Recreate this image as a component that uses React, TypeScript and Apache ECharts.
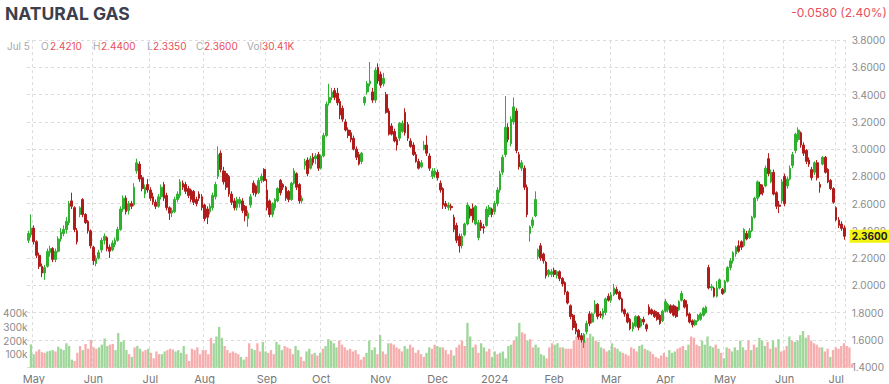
import React, { useEffect, useRef } from "react";
import * as echarts from "echarts";

// Trading days per month (year-month, days)
const TRADING_DAYS: [string, number[]][] = [
  ["2023-04", [27, 28]],
  ["2023-05", [1, 2, 3, 4, 5, 8, 9, 10, 11, 12, 15, 16, 17, 18, 19, 22, 23, 24, 25, 26, 30, 31]],
  ["2023-06", [1, 2, 5, 6, 7, 8, 9, 12, 13, 14, 15, 16, 20, 21, 22, 23, 26, 27, 28, 29, 30]],
  ["2023-07", [3, 5, 6, 7, 10, 11, 12, 13, 14, 17, 18, 19, 20, 21, 24, 25, 26, 27, 28, 31]],
  ["2023-08", [1, 2, 3, 4, 7, 8, 9, 10, 11, 14, 15, 16, 17, 18, 21, 22, 23, 24, 25, 28, 29, 30, 31]],
  ["2023-09", [1, 5, 6, 7, 8, 11, 12, 13, 14, 15, 18, 19, 20, 21, 22, 25, 26, 27, 28, 29]],
  ["2023-10", [2, 3, 4, 5, 6, 9, 10, 11, 12, 13, 16, 17, 18, 19, 20, 23, 24, 25, 26, 27, 30, 31]],
  ["2023-11", [1, 2, 3, 6, 7, 8, 9, 10, 13, 14, 15, 16, 17, 20, 21, 22, 24, 27, 28, 29, 30]],
  ["2023-12", [1, 4, 5, 6, 7, 8, 11, 12, 13, 14, 15, 18, 19, 20, 21, 22, 25, 26, 27, 28, 29]],
  ["2024-01", [2, 3, 4, 5, 8, 9, 10, 11, 12, 15, 16, 17, 18, 19, 22, 23, 24, 25, 26, 29, 30, 31]],
  ["2024-02", [1, 2, 5, 6, 7, 8, 9, 12, 13, 14, 15, 16, 19, 20, 21, 22, 23, 26, 27, 28, 29]],
  ["2024-03", [1, 4, 5, 6, 7, 8, 11, 12, 13, 14, 15, 18, 19, 20, 21, 22, 25, 26, 27, 28]],
  ["2024-04", [1, 2, 3, 4, 5, 8, 9, 10, 11, 12, 15, 16, 17, 18, 19, 22, 23, 24, 25, 26, 29, 30]],
  ["2024-05", [1, 2, 3, 6, 7, 8, 9, 10, 13, 14, 15, 16, 17, 20, 21, 22, 23, 24, 28, 29, 30, 31]],
  ["2024-06", [3, 4, 5, 6, 7, 10, 11, 12, 13, 14, 17, 18, 20, 21, 24, 25, 26, 27, 28]],
  ["2024-07", [1, 2, 3, 5]],
];

// OHLC as [open, close, low, high]
const apr23 = [[2.33,2.38,2.31,2.40],[2.37,2.42,2.35,2.52]];
const may23 = [[2.42,2.32,2.30,2.44],[2.32,2.22,2.20,2.33],[2.22,2.14,2.12,2.24],[2.14,2.09,2.06,2.16],[2.09,2.13,2.04,2.15],[2.14,2.25,2.13,2.27],[2.24,2.27,2.21,2.29],[2.27,2.19,2.17,2.28],[2.19,2.25,2.17,2.27],[2.25,2.34,2.24,2.36],[2.34,2.39,2.32,2.42],[2.38,2.41,2.36,2.44],[2.41,2.47,2.38,2.50],[2.46,2.60,2.44,2.62],[2.62,2.58,2.56,2.68],[2.57,2.41,2.39,2.58],[2.40,2.32,2.30,2.42],[2.52,2.57,2.50,2.58],[2.63,2.52,2.50,2.64],[2.52,2.46,2.45,2.53],[2.47,2.40,2.38,2.48],[2.40,2.29,2.27,2.41]];
const jun23 = [[2.28,2.18,2.15,2.29],[2.16,2.20,2.14,2.22],[2.20,2.24,2.19,2.26],[2.26,2.33,2.24,2.35],[2.33,2.36,2.30,2.38],[2.35,2.27,2.25,2.36],[2.28,2.25,2.20,2.30],[2.26,2.31,2.25,2.33],[2.30,2.33,2.28,2.35],[2.33,2.41,2.32,2.43],[2.41,2.56,2.40,2.58],[2.56,2.64,2.54,2.66],[2.64,2.54,2.52,2.66],[2.55,2.60,2.52,2.62],[2.60,2.58,2.56,2.62],[2.59,2.72,2.58,2.75],[2.84,2.90,2.82,2.93],[2.89,2.78,2.76,2.91],[2.79,2.71,2.69,2.81],[2.67,2.72,2.64,2.74],[2.74,2.70,2.68,2.78]];
const jul23 = [[2.70,2.64,2.62,2.72],[2.65,2.61,2.59,2.68],[2.61,2.58,2.56,2.63],[2.58,2.65,2.57,2.67],[2.65,2.72,2.63,2.74],[2.74,2.64,2.62,2.76],[2.66,2.57,2.55,2.68],[2.57,2.53,2.48,2.58],[2.53,2.55,2.50,2.57],[2.54,2.63,2.53,2.65],[2.63,2.67,2.61,2.69],[2.66,2.76,2.64,2.78],[2.75,2.72,2.70,2.77],[2.74,2.69,2.67,2.76],[2.71,2.66,2.64,2.73],[2.70,2.63,2.61,2.71],[2.69,2.61,2.59,2.70],[2.63,2.60,2.58,2.65],[2.67,2.64,2.62,2.69],[2.65,2.57,2.55,2.67]];
const aug23 = [[2.59,2.49,2.47,2.60],[2.56,2.50,2.45,2.58],[2.54,2.58,2.52,2.60],[2.57,2.66,2.55,2.68],[2.65,2.74,2.63,2.76],[2.80,2.96,2.78,3.02],[2.97,2.85,2.83,2.99],[2.84,2.76,2.74,2.87],[2.82,2.72,2.70,2.84],[2.80,2.67,2.65,2.81],[2.67,2.61,2.59,2.69],[2.62,2.57,2.55,2.64],[2.57,2.63,2.55,2.65],[2.60,2.63,2.57,2.65],[2.62,2.55,2.53,2.64],[2.58,2.51,2.47,2.59],[2.49,2.53,2.43,2.55],[2.59,2.65,2.57,2.67],[2.75,2.68,2.66,2.77],[2.73,2.67,2.65,2.74],[2.68,2.77,2.67,2.79],[2.77,2.80,2.75,2.82],[2.85,2.77,2.76,2.86]];
const sep23 = [[2.70,2.57,2.55,2.78],[2.62,2.52,2.50,2.63],[2.52,2.60,2.50,2.61],[2.57,2.63,2.55,2.64],[2.62,2.71,2.61,2.72],[2.77,2.68,2.66,2.78],[2.74,2.72,2.70,2.75],[2.72,2.64,2.62,2.73],[2.69,2.63,2.61,2.70],[2.63,2.75,2.62,2.76],[2.75,2.84,2.74,2.86],[2.82,2.72,2.70,2.83],[2.74,2.62,2.60,2.75],[2.62,2.64,2.60,2.66],[2.88,2.91,2.85,2.93],[2.92,2.82,2.80,2.94],[2.86,2.93,2.85,2.95],[2.94,2.90,2.88,2.97],[2.93,2.95,2.89,2.97],[2.96,2.86,2.84,2.98]];
const oct23 = [[2.86,2.95,2.85,2.96],[2.95,3.10,2.94,3.12],[3.10,3.33,3.09,3.35],[3.34,3.38,3.32,3.48],[3.38,3.42,3.36,3.45],[3.43,3.38,3.36,3.45],[3.41,3.34,3.32,3.45],[3.35,3.25,3.22,3.37],[3.30,3.22,3.20,3.32],[3.20,3.14,3.13,3.22],[3.14,3.10,3.08,3.16],[3.12,3.07,3.05,3.14],[3.08,3.00,2.99,3.10],[3.00,2.94,2.92,3.02],[2.96,2.89,2.88,2.98],[2.91,2.97,2.89,2.98],[3.34,3.38,3.32,3.39],[3.42,3.48,3.40,3.50],[3.48,3.50,3.46,3.64],[3.42,3.36,3.34,3.45],[3.36,3.58,3.34,3.60],[3.60,3.50,3.48,3.63]];
const nov23 = [[3.55,3.47,3.45,3.57],[3.48,3.52,3.46,3.56],[3.40,3.27,3.26,3.42],[3.28,3.11,3.10,3.30],[3.17,3.11,3.10,3.19],[3.13,3.06,3.05,3.15],[3.07,3.03,2.99,3.09],[3.08,3.19,3.06,3.20],[3.13,3.19,3.12,3.21],[3.27,3.12,3.10,3.30],[3.18,3.08,3.06,3.20],[3.06,3.02,3.01,3.08],[3.03,2.96,2.95,3.05],[2.96,2.91,2.90,2.98],[2.91,2.86,2.85,2.93],[2.87,2.90,2.86,2.92],[3.00,3.03,2.99,3.06],[3.03,2.97,2.95,3.10],[2.95,2.86,2.84,2.97],[2.80,2.84,2.78,2.86],[2.81,2.84,2.79,2.86]];
const dec23 = [[2.83,2.79,2.77,2.85],[2.75,2.70,2.68,2.77],[2.71,2.59,2.56,2.72],[2.60,2.58,2.56,2.62],[2.57,2.59,2.55,2.61],[2.58,2.57,2.55,2.60],[2.50,2.41,2.39,2.52],[2.44,2.33,2.31,2.46],[2.36,2.29,2.24,2.38],[2.29,2.36,2.27,2.38],[2.37,2.45,2.36,2.46],[2.45,2.59,2.44,2.61],[2.56,2.51,2.49,2.58],[2.57,2.48,2.46,2.60],[2.45,2.58,2.44,2.59],[2.35,2.46,2.33,2.48],[2.46,2.42,2.40,2.48],[2.43,2.42,2.38,2.45],[2.44,2.56,2.43,2.58],[2.52,2.57,2.50,2.59],[2.56,2.52,2.50,2.57]];
const jan24 = [[2.54,2.60,2.52,2.62],[2.60,2.70,2.58,2.72],[2.70,2.82,2.68,2.84],[2.83,2.94,2.81,2.96],[2.96,3.16,2.94,3.39],[3.16,3.07,3.05,3.19],[3.04,3.22,3.02,3.24],[3.20,3.31,3.18,3.38],[3.28,2.99,2.97,3.30],[2.96,2.87,2.85,2.98],[2.86,2.90,2.84,2.92],[2.86,2.72,2.70,2.88],[2.72,2.52,2.50,2.74],[2.38,2.43,2.32,2.44],[2.44,2.48,2.42,2.50],[2.51,2.63,2.50,2.69],[2.21,2.26,2.19,2.27],[2.29,2.20,2.18,2.31],[2.23,2.18,2.16,2.24],[2.17,2.07,2.05,2.18],[2.08,2.11,2.06,2.12],[2.08,2.10,2.06,2.12]];
const feb24 = [[2.11,2.08,2.06,2.13],[2.07,2.10,2.05,2.11],[2.10,2.05,2.03,2.11],[2.05,2.01,1.99,2.06],[2.02,1.95,1.93,2.03],[1.95,1.87,1.86,1.96],[1.85,1.77,1.75,1.86],[1.78,1.69,1.67,1.79],[1.72,1.66,1.64,1.74],[1.67,1.62,1.60,1.68],[1.63,1.60,1.58,1.65],[1.58,1.64,1.54,1.65],[1.66,1.72,1.64,1.74],[1.79,1.72,1.70,1.81],[1.73,1.79,1.72,1.80],[1.80,1.86,1.79,1.89],[1.86,1.77,1.75,1.87],[1.79,1.78,1.76,1.81],[1.77,1.81,1.75,1.83],[1.80,1.90,1.78,1.91],[1.92,1.89,1.88,1.94]];
const mar24 = [[1.89,1.93,1.87,1.95],[1.93,1.98,1.92,2.01],[1.97,1.94,1.93,1.99],[1.95,1.90,1.89,1.96],[1.90,1.81,1.80,1.91],[1.82,1.79,1.77,1.83],[1.79,1.73,1.72,1.80],[1.75,1.68,1.67,1.76],[1.68,1.72,1.66,1.73],[1.70,1.77,1.69,1.78],[1.77,1.69,1.67,1.78],[1.70,1.75,1.69,1.76],[1.75,1.73,1.71,1.77],[1.71,1.68,1.66,1.72],[1.84,1.79,1.78,1.86],[1.82,1.79,1.78,1.83],[1.81,1.77,1.76,1.82],[1.80,1.75,1.74,1.81],[1.78,1.72,1.71,1.79],[1.74,1.81,1.73,1.82]];
const apr24 = [[1.81,1.88,1.80,1.90],[1.82,1.86,1.80,1.87],[1.85,1.80,1.79,1.86],[1.85,1.78,1.77,1.86],[1.84,1.77,1.76,1.85],[1.82,1.88,1.81,1.89],[1.89,1.94,1.88,1.96],[1.89,1.84,1.83,1.90],[1.86,1.78,1.77,1.89],[1.79,1.73,1.72,1.80],[1.74,1.71,1.69,1.75],[1.71,1.74,1.70,1.75],[1.74,1.78,1.73,1.79],[1.75,1.79,1.74,1.80],[1.78,1.83,1.77,1.84],[1.80,1.84,1.79,1.85],[2.13,1.98,1.97,2.15],[1.98,1.99,1.96,2.01],[1.98,1.92,1.91,1.99],[1.92,1.98,1.91,2.03],[1.98,2.04,1.97,2.05],[1.97,1.94,1.93,1.98]];
const may24 = [[1.95,2.03,1.94,2.04],[2.03,2.13,2.02,2.14],[2.13,2.18,2.11,2.20],[2.18,2.24,2.16,2.25],[2.23,2.28,2.21,2.29],[2.29,2.25,2.24,2.33],[2.32,2.28,2.26,2.33],[2.29,2.41,2.28,2.42],[2.38,2.34,2.33,2.40],[2.35,2.40,2.34,2.42],[2.40,2.50,2.39,2.51],[2.50,2.64,2.49,2.65],[2.64,2.76,2.62,2.77],[2.74,2.67,2.65,2.76],[2.72,2.68,2.66,2.74],[2.73,2.86,2.72,2.88],[2.93,2.82,2.80,2.97],[2.76,2.83,2.75,2.85],[2.83,2.67,2.66,2.85],[2.68,2.58,2.56,2.69],[2.59,2.58,2.53,2.62],[2.62,2.76,2.60,2.78]];
const jun24 = [[2.80,2.60,2.58,2.82],[2.73,2.78,2.71,2.80],[2.78,2.86,2.77,2.88],[2.88,2.96,2.86,2.98],[2.99,3.11,2.97,3.12],[3.07,3.14,3.05,3.16],[3.12,3.03,3.01,3.13],[3.03,2.97,2.95,3.05],[2.99,2.91,2.89,3.00],[2.92,2.89,2.87,2.94],[2.85,2.79,2.77,2.87],[2.83,2.90,2.81,2.91],[2.90,2.79,2.77,2.92],[2.74,2.72,2.68,2.76],[2.89,2.94,2.88,2.95],[2.94,2.83,2.82,2.95],[2.85,2.76,2.75,2.86],[2.77,2.71,2.70,2.78],[2.71,2.61,2.60,2.72]];
const jul24 = [[2.57,2.48,2.47,2.58],[2.48,2.44,2.42,2.50],[2.45,2.418,2.40,2.47],[2.421,2.36,2.335,2.44]];

// Volume per day
const volApr23 = [172000,100000];
const volMay23 = [120000,135000,115000,110000,120000,125000,130000,120000,155000,140000,130000,180000,160000,60000,50000,110000,160000,130000,175000,140000,205000,150000];
const volJun23 = [140000,150000,170000,215000,160000,170000,175000,130000,255000,190000,200000,130000,100000,80000,150000,160000,140000,120000,130000,140000,110000];
const volJul23 = [70000,120000,100000,100000,120000,130000,140000,135000,120000,130000,110000,160000,100000,50000,140000,130000,150000,100000,130000,130000];
const volAug23 = [100000,220000,180000,230000,300000,220000,160000,130000,110000,120000,110000,100000,80000,60000,80000,180000,140000,130000,180000,120000,190000,120000,110000];
const volSep23 = [130000,100000,190000,170000,130000,160000,150000,140000,100000,160000,130000,80000,50000,120000,140000,100000,110000,90000,110000,140000];
const volOct23 = [160000,210000,200000,180000,150000,200000,170000,150000,130000,140000,120000,130000,100000,60000,80000,110000,200000,130000,150000,100000,240000,120000];
const volNov23 = [100000,180000,180000,170000,150000,140000,120000,160000,140000,170000,150000,110000,130000,100000,80000,110000,150000,140000,170000,160000,150000];
const volDec23 = [150000,130000,100000,130000,90000,150000,170000,200000,160000,330000,230000,150000,170000,110000,180000,150000,120000,140000,80000,120000,100000];
const volJan24 = [110000,120000,70000,160000,170000,200000,230000,330000,260000,250000,200000,210000,150000,170000,150000,100000,90000,70000,150000,180000,170000,180000];
const volFeb24 = [150000,150000,140000,140000,140000,200000,230000,240000,220000,200000,220000,250000,230000,200000,190000,150000,140000,120000,130000,180000,150000];
const volMar24 = [140000,120000,110000,100000,90000,150000,140000,120000,160000,170000,140000,130000,120000,100000,80000,70000,90000,110000,80000,130000];
const volApr24 = [110000,120000,140000,150000,160000,130000,170000,230000,220000,170000,160000,200000,170000,230000,160000,150000,170000,140000,110000,70000,150000,140000];
const volMay24 = [120000,150000,130000,200000,150000,130000,200000,130000,170000,150000,220000,200000,160000,190000,140000,200000,150000,210000,120000,130000,160000,230000];
const volJun24 = [200000,190000,200000,240000,270000,220000,240000,200000,180000,170000,150000,150000,120000,140000,80000,130000,150000,140000,160000];
const volJul24 = [180000,160000,150000,30410];

const PRICE_TICKS = { min: 1.4, max: 3.8, step: 0.2 };
const VOLUME_TICKS = { min: 0, max: 400000, step: 100000 };
const MONTH_NAMES = ["Jan","Feb","Mar","Apr","May","Jun","Jul","Aug","Sep","Oct","Nov","Dec"];

const UP = "#2fb12f";
const DOWN = "#b01c1c";
const VOL_UP = "#9fd699";
const VOL_DOWN = "#f6adad";
const FONT = "Inter, sans-serif";

export default function App() {
  const ref = useRef<HTMLDivElement>(null);

  useEffect(() => {
    if (!ref.current) return;
    const chart = echarts.init(ref.current, undefined, { renderer: "svg" });

    const dates: string[] = [];
    const labelText: Record<string, string> = {};
    TRADING_DAYS.forEach(([ym, days], mi) => {
      days.forEach((d, di) => {
        const ds = `${ym}-${String(d).padStart(2, "0")}`;
        dates.push(ds);
        if (di === 0 && mi > 0) {
          const [y, m] = ym.split("-").map(Number);
          labelText[ds] = m === 1 ? String(y) : MONTH_NAMES[m - 1];
        }
      });
    });
    const labelIdx = new Set<number>();
    dates.forEach((d, i) => { if (labelText[d]) labelIdx.add(i); });

    const ohlc = [...apr23, ...may23, ...jun23, ...jul23, ...aug23, ...sep23, ...oct23, ...nov23, ...dec23, ...jan24, ...feb24, ...mar24, ...apr24, ...may24, ...jun24, ...jul24];
    const vols = [...volApr23, ...volMay23, ...volJun23, ...volJul23, ...volAug23, ...volSep23, ...volOct23, ...volNov23, ...volDec23, ...volJan24, ...volFeb24, ...volMar24, ...volApr24, ...volMay24, ...volJun24, ...volJul24];

    const volData = vols.map((v, i) => ({
      value: v,
      itemStyle: { color: ohlc[i] && ohlc[i][1] >= ohlc[i][0] ? VOL_UP : VOL_DOWN },
    }));

    const last = ohlc[ohlc.length - 1];
    const prev = ohlc[ohlc.length - 2];
    const change = last[1] - prev[1];
    const pct = (Math.abs(change) / prev[1]) * 100;
    const lastDate = dates[dates.length - 1];
    const [, lm, ld] = lastDate.split("-").map(Number);
    const lastVol = vols[vols.length - 1];

    const gray = "#a9a9a9";
    const red = "#e8505b";
    const infoY = 46;
    const txt = (text: string, x: number, y: number, fill: string, size = 10, extra: any = {}) => ({
      type: "text",
      x,
      y,
      silent: true,
      style: { text, fill, fontSize: size, fontFamily: FONT, verticalAlign: "middle", ...extra },
    });

    const grid = { left: 27, right: 35.5 };

    chart.setOption({
      animation: false,
      backgroundColor: "#ffffff",
      grid: [
        { left: grid.left, right: grid.right, top: 40.2, bottom: 16.2 },
        { left: grid.left, right: grid.right, top: 313.3, bottom: 16.2 },
      ],
      xAxis: [
        {
          type: "category",
          data: dates,
          gridIndex: 0,
          boundaryGap: true,
          axisLine: { show: false },
          axisTick: { show: false },
          axisLabel: {
            interval: (i: number) => labelIdx.has(i),
            formatter: (v: string) => labelText[v] || "",
            color: "#777",
            fontSize: 11,
            fontFamily: FONT,
            margin: 6,
          },
          splitLine: {
            show: true,
            interval: (i: number) => labelIdx.has(i),
            lineStyle: { color: "#dcdcdc", type: [3, 3], width: 1 },
          },
        },
        {
          type: "category",
          data: dates,
          gridIndex: 1,
          show: false,
        },
      ],
      yAxis: [
        {
          type: "value",
          gridIndex: 0,
          position: "right",
          min: PRICE_TICKS.min,
          max: PRICE_TICKS.max,
          interval: PRICE_TICKS.step,
          axisLine: { show: false },
          axisTick: { show: false },
          axisLabel: {
            formatter: (v: number) => v.toFixed(4),
            color: "#8a8a8a",
            fontSize: 10,
            fontFamily: FONT,
            margin: 6,
          },
          splitLine: { show: true, lineStyle: { color: "#dcdcdc", type: [3, 3], width: 1 } },
        },
        {
          type: "value",
          gridIndex: 1,
          position: "left",
          min: VOLUME_TICKS.min,
          max: VOLUME_TICKS.max,
          interval: VOLUME_TICKS.step,
          axisLine: { show: false },
          axisTick: { show: false },
          splitLine: { show: false },
          axisLabel: {
            formatter: (v: number) => (v === 0 ? "" : `${v / 1000}k`),
            color: "#8a8a8a",
            fontSize: 10,
            fontFamily: FONT,
            margin: 2,
          },
        },
      ],
      series: [
        {
          type: "bar",
          xAxisIndex: 1,
          yAxisIndex: 1,
          data: volData,
          barWidth: "85%",
          z: 1,
        },
        {
          type: "candlestick",
          xAxisIndex: 0,
          yAxisIndex: 0,
          data: ohlc,
          barWidth: "80%",
          z: 3,
          itemStyle: {
            color: UP,
            color0: DOWN,
            borderColor: UP,
            borderColor0: DOWN,
            borderWidth: 1,
          },
          markLine: {
            silent: true,
            symbol: ["none", "none"],
            data: [{ yAxis: last[1] }],
            lineStyle: { color: "rgba(0,0,0,0)", width: 0 },
            label: {
              show: true,
              position: "end",
              distance: 4,
              formatter: () => last[1].toFixed(4),
              backgroundColor: "#f3f312",
              color: "#222",
              fontWeight: "bold",
              fontSize: 10,
              fontFamily: FONT,
              padding: [2, 2, 1, 2],
            },
          },
        },
      ],
      graphic: [
        txt("NATURAL GAS", 5, 13, "#3b404c", 17.5, { fontWeight: "bold" }),
        txt(`${change.toFixed(4)} (${pct.toFixed(2)}%)`, 887, 12, red, 12, { align: "right" }),
        txt(`${MONTH_NAMES[lm - 1]} ${ld}`, 7, infoY, gray),
        txt("O", 41, infoY, gray),
        txt(last[0].toFixed(4), 50, infoY, red),
        txt("H", 93, infoY, gray),
        txt(last[3].toFixed(4), 101, infoY, red),
        txt("L", 147, infoY, gray),
        txt(last[2].toFixed(4), 153, infoY, red),
        txt("C", 196, infoY, gray),
        txt(last[1].toFixed(4), 204, infoY, red),
        txt("Vol", 247, infoY, gray),
        txt(`${(lastVol / 1000).toFixed(2)}K`, 262, infoY, red),
      ],
    });

    return () => chart.dispose();
  }, []);

  return <div ref={ref} style={{ position: "absolute", left: 0, top: 0, width: 889, height: 384 }} />;
}
